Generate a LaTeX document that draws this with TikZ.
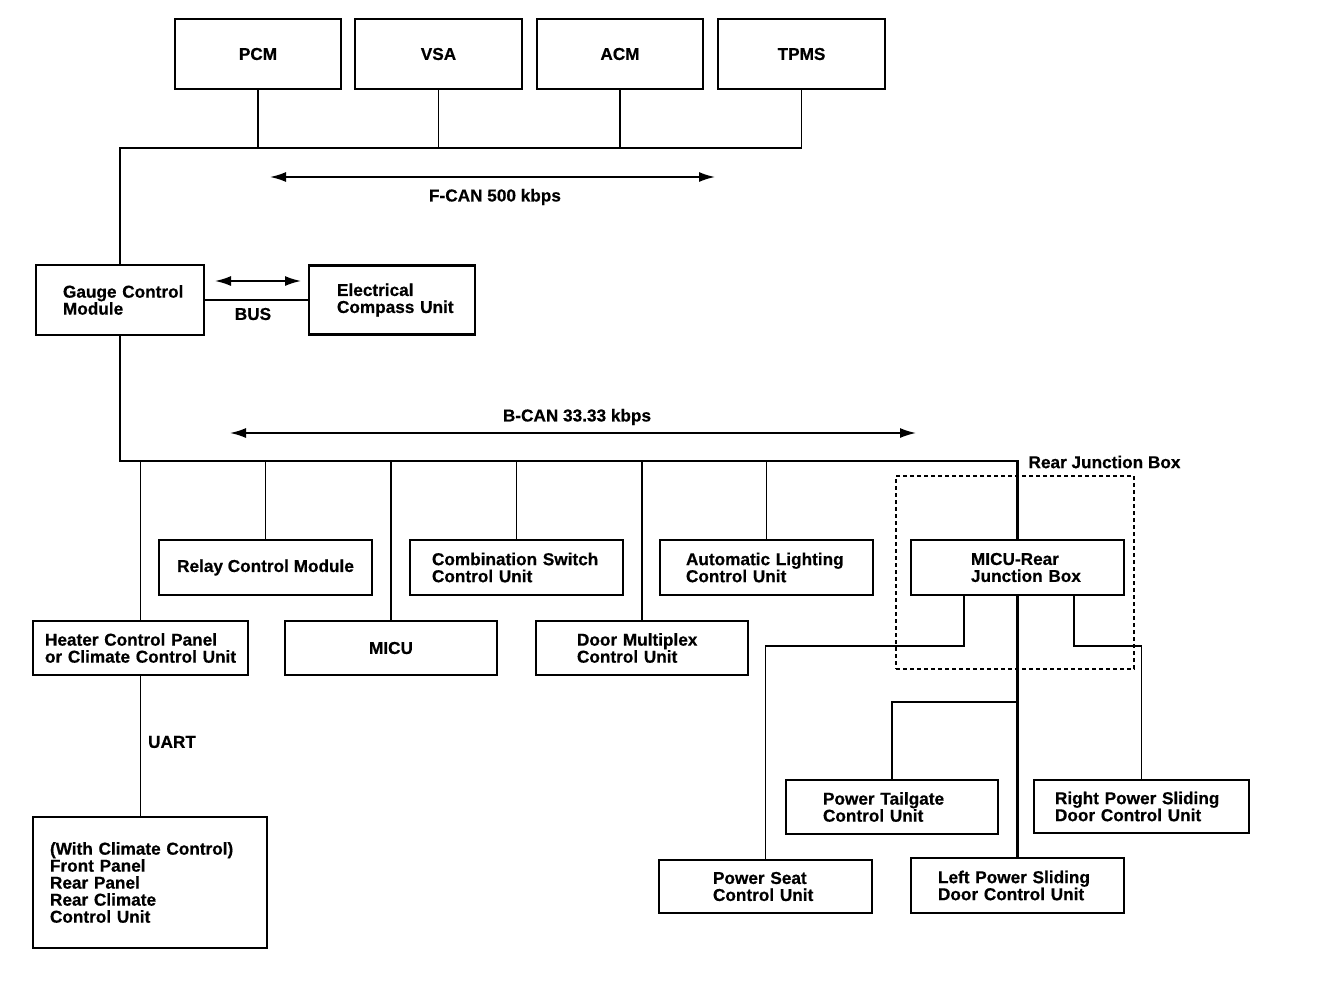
\documentclass[tikz,border=0pt]{standalone}
\usepackage{fontspec}
\setmainfont{Liberation Sans}[BoldFeatures={FakeBold=0.6}]
\usetikzlibrary{arrows.meta}
\hyphenpenalty=10000
\exhyphenpenalty=10000
\begin{document}
\begin{tikzpicture}[x=1pt,y=-1pt,
  every node/.style={font=\fontsize{17.2}{17}\selectfont\bfseries},
  box/.style={draw, line width=2.6pt, inner ysep=0pt, minimum height=#1},
  box/.default=55,
  cbox/.style={box, minimum width=#1, inner xsep=0pt, align=center},
  lbox/.style 2 args={inner xsep=#1, text width=#2, align=left},
  conn/.style={line width=1.4pt},
  bus/.style={line width=2.2pt},
  dbl/.style={line width=1.7pt, {Latex[length=16pt,width=10pt]}-{Latex[length=16pt,width=10pt]}},
  lbl/.style={inner sep=0pt},
  rjbstyle/.style={draw, line width=1.4pt, dash pattern=on 4pt off 3pt, inner sep=0pt}
]
\useasboundingbox (0,0) rectangle (1344,990);

% top modules
\node[cbox=166, box=70] (pcm)  at (258,54)   {PCM};
\node[cbox=167, box=70] (vsa)  at (438.5,54) {VSA};
\node[cbox=166, box=70] (acm)  at (620,54)   {ACM};
\node[cbox=167, box=70] (tpms) at (801.5,54) {TPMS};

% gauge + compass
\node[box=70, lbox={27pt}{114pt}] (gcm) at (120,300) {\mbox{Gauge Control}\\\mbox{Module}};
\node[box=69, lbox={28pt}{110pt}] (ecu) at (392,300) {\mbox{Electrical}\\\mbox{Compass Unit}};

% B-CAN upper row
\node[cbox=213] (relay) at (265.5,567.5) {Relay Control Module};
\node[box, lbox={22pt}{169pt}] (comb) at (516.5,567.5) {\mbox{Combination Switch}\\\mbox{Control Unit}};
\node[box, lbox={26pt}{161pt}] (auto) at (766.5,567.5) {\mbox{Automatic Lighting}\\\mbox{Control Unit}};
\node[box, lbox={60pt}{93pt}] (micur) at (1017.5,567.5) {\mbox{MICU-Rear}\\\mbox{Junction Box}};

% B-CAN lower row
\node[box=54, lbox={12pt}{191pt}] (heater) at (140.5,648) {\mbox{Heater Control Panel}\\\mbox{or Climate Control Unit}};
\node[cbox=212, box=54] (micu) at (391,648) {MICU};
\node[box=54, lbox={41pt}{130pt}] (door) at (642,648) {\mbox{Door Multiplex}\\\mbox{Control Unit}};

% rear junction box frame
\node[rjbstyle, minimum width=238, minimum height=193] (rjb) at (1015,572.5) {};
\node[lbl] (rjblabel) at (1104.5,462) {Rear Junction Box};

% rear units
\node[box=54, lbox={37pt}{138pt}] (tail) at (892,807) {\mbox{Power Tailgate}\\\mbox{Control Unit}};
\node[box=53, lbox={21pt}{173pt}] (rps) at (1141.5,806.5) {\mbox{Right Power Sliding}\\\mbox{Door Control Unit}};
\node[box=53, lbox={54pt}{105pt}] (seat) at (765.5,886.5) {\mbox{Power Seat}\\\mbox{Control Unit}};
\node[box=55, lbox={27pt}{159pt}] (lps) at (1017.5,885.5) {\mbox{Left Power Sliding}\\\mbox{Door Control Unit}};

% climate
\node[box=131, lbox={17pt}{200pt}] (clim) at (150,882.5) {\mbox{(With Climate Control)}\\\mbox{Front Panel}\\\mbox{Rear Panel}\\\mbox{Rear Climate}\\\mbox{Control Unit}};

% F-CAN bus
\coordinate (fbus) at (120,148);
\draw[conn] (tpms.south) |- (fbus) -- (gcm.north);
\draw[conn] (pcm.south) -- (pcm.south |- fbus);
\draw[conn] (vsa.south) -- (vsa.south |- fbus);
\draw[conn] (acm.south) -- (acm.south |- fbus);
\coordinate (fa1) at (270,177);
\coordinate (fa2) at (715,177);
\draw[dbl] (fa1) -- (fa2);
\node[lbl] (fcanlbl) at (495,197) {F-CAN 500 kbps};

% BUS
\coordinate (ba1) at (215,281);
\coordinate (ba2) at (301,281);
\draw[dbl] (ba1) -- (ba2);
\draw[conn] (gcm.east) -- (ecu.west);
\node[lbl] (buslbl) at (253,314) {BUS};

% B-CAN bus
\coordinate (bbus) at (120,461);
\draw[bus] (gcm.south) -- (bbus) -- (micur.north |- bbus) -- (micur.north);
\draw[conn] (heater.north) -- (heater.north |- bbus);
\draw[conn] (relay.north) -- (relay.north |- bbus);
\draw[conn] (micu.north) -- (micu.north |- bbus);
\draw[conn] (comb.north) -- (comb.north |- bbus);
\draw[conn] (door.north) -- (door.north |- bbus);
\draw[conn] (auto.north) -- (auto.north |- bbus);
\coordinate (ca1) at (230,433);
\coordinate (ca2) at (916,433);
\draw[dbl] (ca1) -- (ca2);
\node[lbl] (bcanlbl) at (577,417) {B-CAN 33.33 kbps};

% rear branches
\coordinate (j1) at (964,646);
\coordinate (j2) at (1017.5,702);
\coordinate (j3) at (1074,646);
\draw[conn] (micur.south -| j1) -- (j1) -| (seat.north);
\draw[bus] (micur.south) -- (lps.north);
\draw[conn] (j2) -| (tail.north);
\draw[conn] (micur.south -| j3) -- (j3) -| (rps.north);

% UART
\draw[conn] (heater.south) -- (heater.south |- clim.north);
\node[lbl] (uartlbl) at (172,742) {UART};
\end{tikzpicture}
\end{document}
